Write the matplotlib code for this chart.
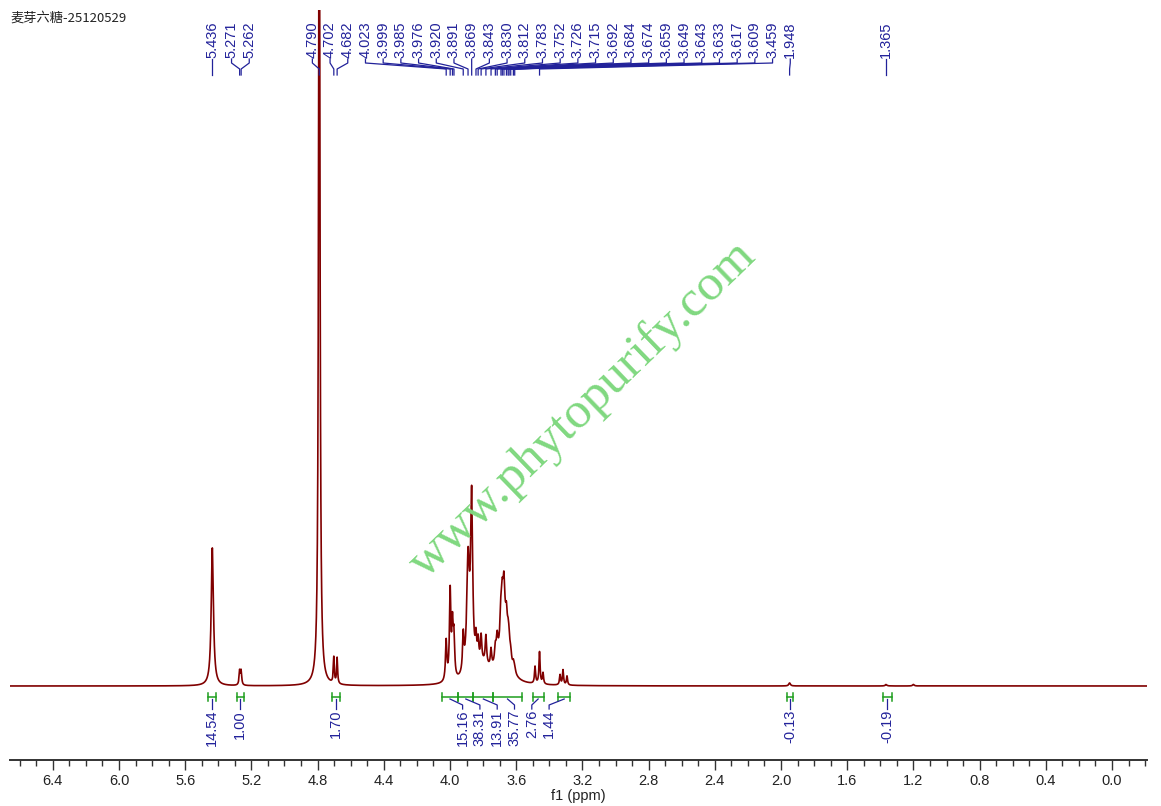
import numpy as np
import matplotlib.pyplot as plt
from matplotlib.ticker import MultipleLocator, FormatStrFormatter

title = '麦芽六糖-25120529'

# peaks used to draw the 1H spectrum: shift (ppm), height, line width (ppm)
peak_ppm = [5.436, 5.271, 5.262, 4.790, 4.702, 4.682,
            4.023, 3.999, 3.985, 3.976, 3.920, 3.891, 3.869,
            3.843, 3.830, 3.812, 3.783, 3.752,
            3.726, 3.715, 3.692, 3.684, 3.674, 3.659, 3.649, 3.643, 3.633,
            3.617, 3.609,
            3.486, 3.459, 3.438, 3.335, 3.317, 3.293,
            3.675, 3.800, 3.880, 1.948, 1.365, 1.200]
peak_height = [138, 14, 14, 900, 26, 26,
               40, 88, 50, 40, 36, 100, 160,
               24, 22, 26, 28, 18,
               16, 22, 30, 30, 40, 24, 16, 14, 10,
               8, 5,
               17, 32, 11, 10, 15, 9,
               55, 16, 22, 3, 1.5, 1.5]
peak_width = [0.016, 0.008, 0.008, 0.010, 0.007, 0.007,
              0.010, 0.010, 0.010, 0.010, 0.010, 0.018, 0.014,
              0.010, 0.010, 0.010, 0.010, 0.010,
              0.012, 0.012, 0.012, 0.012, 0.012, 0.012, 0.012, 0.012, 0.012,
              0.012, 0.012,
              0.008, 0.008, 0.008, 0.008, 0.008, 0.008,
              0.060, 0.100, 0.040, 0.012, 0.012, 0.012]

# peak labels, grouped as annotated on the top of the spectrum
label_groups = [
    [5.436],
    [5.271, 5.262],
    [4.790, 4.702, 4.682],
    [4.023, 3.999, 3.985, 3.976, 3.920, 3.891, 3.869, 3.843, 3.830, 3.812,
     3.783, 3.752, 3.726, 3.715, 3.692, 3.684, 3.674, 3.659, 3.649, 3.643,
     3.633, 3.617, 3.609, 3.459],
    [1.948],
    [1.365],
]

# integrals (ranges in ppm, value, label group)
int_from = [5.465, 5.290, 4.715, 4.050, 3.950, 3.859, 3.738, 3.500, 3.345, 1.965, 1.385]
int_to = [5.415, 5.245, 4.665, 3.950, 3.859, 3.738, 3.567, 3.435, 3.275, 1.925, 1.330]
int_value = ['14.54', '1.00', '1.70', '15.16', '38.31', '13.91', '35.77', '2.76', '1.44', '-0.13', '-0.19']
int_group = [0, 1, 2, 3, 3, 3, 3, 3, 3, 4, 5]

W, H = 1161, 806
PX = 165.5          # pixels per ppm
blue = '#22229a'
green = '#1e9e1e'
red = '#800000'


def spread_push(groups, gap):
    # centre each group on its peaks, push right (lower ppm) to avoid overlap
    out = []
    last = None
    for g in groups:
        c = np.mean(g)
        n = len(g)
        pos = [c + gap * ((n - 1) / 2 - i) for i in range(n)]
        if last is not None and pos[0] > last - gap:
            shift = pos[0] - (last - gap)
            pos = [p - shift for p in pos]
        out.extend(pos)
        last = pos[-1]
    return out


x = np.linspace(-0.3, 6.8, 30000)
y = np.zeros_like(x)
for p0, h, w in zip(peak_ppm, peak_height, peak_width):
    y += h / (1 + ((x - p0) / (w / 2)) ** 2)

fig = plt.figure(figsize=(W / 100, H / 100), dpi=100)
ax = fig.add_axes([10 / W, 46 / H, 1137 / W, 750 / H])
base = 686  # baseline pixel row
ax.set_xlim((1112 - 10) / PX, (1112 - 1147) / PX)
ax.set_ylim(base - 760, base - 10)

ax.plot(x, y, color=red, lw=1.2)


def yp(p):
    # pixel row (from the top of the figure) to data y
    return base - p


# peak labels
gap = 17.7 / PX
lab_x = spread_push(label_groups, gap)
peaks_flat = [p for g in label_groups for p in g]
for lx, pk in zip(lab_x, peaks_flat):
    ax.text(lx, yp(58), f'{pk:.3f}', rotation=90, ha='center', va='bottom',
            fontsize=10.5, color=blue, family=['Liberation Sans', 'DejaVu Sans'])
    ax.plot([lx, lx, pk, pk], [yp(59), yp(63), yp(69), yp(75)],
            color=blue, lw=0.9, clip_on=False)

# integrals
for a, b in zip(int_from, int_to):
    ax.plot([a, b], [yp(697), yp(697)], color=green, lw=1.1)
    for e in (a, b):
        ax.plot([e, e], [yp(693), yp(701)], color=green, lw=1.1)
centers = [(a + b) / 2 for a, b in zip(int_from, int_to)]
int_gap = 17.3 / PX
int_x = []
for gid in sorted(set(int_group)):
    idx = [i for i, g in enumerate(int_group) if g == gid]
    m = (max(int_from[i] for i in idx) + min(int_to[i] for i in idx)) / 2
    int_x += [m + int_gap * ((len(idx) - 1) / 2 - k) for k in range(len(idx))]
for c, lx, v in zip(centers, int_x, int_value):
    ax.plot([c, lx, lx], [yp(699), yp(705), yp(709)], color=blue, lw=0.9)
    ax.text(lx, yp(710), v, rotation=90, ha='center', va='top',
            fontsize=10.5, color=blue, family=['Liberation Sans', 'DejaVu Sans'])

# axis
for s in ('left', 'right', 'top'):
    ax.spines[s].set_visible(False)
ax.spines['bottom'].set_color('#333333')
ax.spines['bottom'].set_linewidth(1.4)
ax.set_yticks([])
ax.xaxis.set_major_locator(MultipleLocator(0.4))
ax.xaxis.set_minor_locator(MultipleLocator(0.1))
ax.xaxis.set_major_formatter(FormatStrFormatter('%.1f'))
ax.tick_params(axis='x', which='major', direction='out', length=7, width=1.0,
               color='#333333', labelsize=10.5, labelcolor='#222222', pad=3)
ax.tick_params(axis='x', which='minor', direction='out', length=4, width=1.0,
               color='#333333')
for t in ax.get_xticklabels():
    t.set_family(['Liberation Sans Narrow', 'Liberation Sans', 'DejaVu Sans'])
ax.set_xlabel('f1 (ppm)', fontsize=10.5, color='#222222', labelpad=1,
              family=['Liberation Sans Narrow', 'Liberation Sans', 'DejaVu Sans'])

# title and watermark
fig.text(10 / W, 1 - 18 / H, title, fontsize=9.5, color='#222222', va='center',
         family=['Noto Sans CJK SC', 'DejaVu Sans'])
fig.text(583 / W, 1 - 410 / H, 'www.phytopurify.com', fontsize=37,
         color='#80d880', rotation=44, ha='center', va='center',
         family=['Liberation Serif', 'DejaVu Serif'], rotation_mode='anchor')

fig.savefig('out.png', dpi=100)
